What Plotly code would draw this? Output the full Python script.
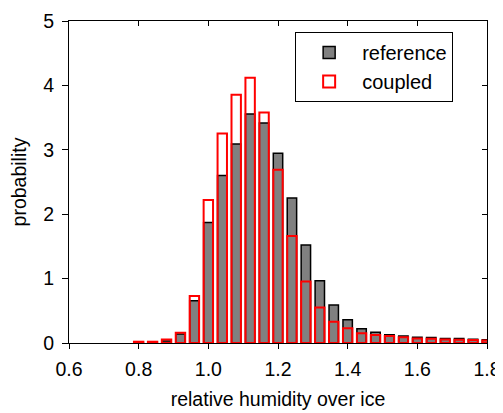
import plotly.graph_objects as go

bin_centers = [0.80, 0.84, 0.88, 0.92, 0.96, 1.00, 1.04, 1.08, 1.12, 1.16, 1.20, 1.24, 1.28,
               1.32, 1.36, 1.40, 1.44, 1.48, 1.52, 1.56, 1.60, 1.64, 1.68, 1.72, 1.76, 1.80]
reference = [0.005, 0.01, 0.03, 0.14, 0.655, 1.87, 2.60, 3.09, 3.555, 3.415, 2.945, 2.25, 1.52,
             0.965, 0.59, 0.36, 0.22, 0.165, 0.13, 0.11, 0.088, 0.085, 0.07, 0.07, 0.06, 0.05]
coupled = [0.02, 0.02, 0.055, 0.16, 0.73, 2.22, 3.255, 3.855, 4.12, 3.58, 2.69, 1.66, 0.955,
           0.55, 0.33, 0.23, 0.15, 0.125, 0.11, 0.088, 0.07, 0.065, 0.055, 0.05, 0.045, 0.04]
x_ticks = [0.6, 0.8, 1.0, 1.2, 1.4, 1.6, 1.8]
y_ticks = [0, 1, 2, 3, 4, 5]

FONT = "Arial, Liberation Sans, sans-serif"
BW = 0.027

fig = go.Figure()
fig.add_trace(go.Bar(x=bin_centers, y=reference, width=BW, name="reference",
                     marker=dict(color="#808080", line=dict(color="black", width=1.5))))
fig.add_trace(go.Bar(x=bin_centers, y=coupled, width=BW, name="coupled",
                     marker=dict(color="rgba(0,0,0,0)", line=dict(color="#ff0000", width=2))))
# invisible trace that makes the mirrored (inward-tick) frame axes render
fig.add_trace(go.Scatter(x=bin_centers, y=reference, xaxis="x2", yaxis="y2", mode="none",
                         showlegend=False, hoverinfo="skip"))

# the page body has an 8px default margin, so the figure is 8px smaller than the window
fig.update_layout(
    width=495, height=405,
    margin=dict(l=61, r=16, t=13, b=70),
    barmode="overlay",
    plot_bgcolor="white", paper_bgcolor="white",
    font=dict(family=FONT, size=19.5, color="black"),
    showlegend=True,
    legend=dict(x=0.541, y=0.966, xanchor="left", yanchor="top",
                bordercolor="black", borderwidth=1, bgcolor="white",
                font=dict(size=20), itemwidth=56, tracegroupgap=0),
    xaxis=dict(range=[0.6, 1.8], tickvals=x_ticks, ticktext=[f"{v:.1f}" for v in x_ticks],
               ticks="outside", ticklen=5, tickcolor="black", showline=True,
               linecolor="black", linewidth=1, showgrid=False, zeroline=False,
               automargin=False, ticklabelstandoff=4,
               title=dict(text="relative humidity over ice", standoff=12, font=dict(size=19.5))),
    yaxis=dict(range=[0, 5], tickvals=y_ticks, ticks="outside", ticklen=6,
               tickcolor="black", showline=True, linecolor="black", linewidth=1,
               showgrid=False, zeroline=False, automargin=False, ticklabelstandoff=4,
               title=dict(text="probability", standoff=14, font=dict(size=19.5))),
    xaxis2=dict(range=[0.6, 1.8], overlaying="x", side="top", tickvals=x_ticks,
                ticks="inside", ticklen=5, tickcolor="black", showticklabels=False,
                showline=True, linecolor="black", linewidth=1, showgrid=False,
                zeroline=False, automargin=False),
    yaxis2=dict(range=[0, 5], overlaying="y", side="right", tickvals=y_ticks,
                ticks="inside", ticklen=5, tickcolor="black", showticklabels=False,
                showline=True, linecolor="black", linewidth=1, showgrid=False,
                zeroline=False, automargin=False),
)
fig.write_html("out.html")
